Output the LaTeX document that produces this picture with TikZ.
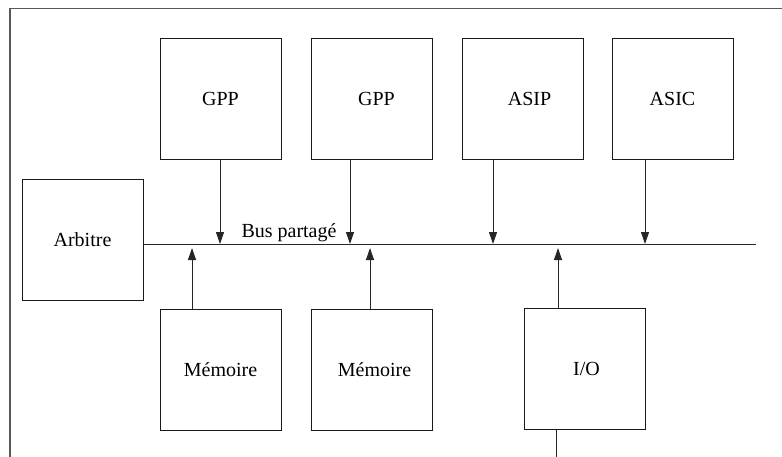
\documentclass[tikz,border=0pt]{standalone}
\usepackage{fontspec}
\setmainfont{Liberation Serif}
\usetikzlibrary{arrows.meta,calc}
\newcommand{\dn}[2]{\raisebox{-#1pt}{#2}}
\begin{document}
\begin{tikzpicture}[x=0.5pt,y=-0.5pt,
  unit/.style={draw=black!90,line width=0.5pt,minimum width=60.5pt,minimum height=60.5pt,inner sep=0pt,font=\fontsize{10}{12}\selectfont},
  arr/.style={draw=black!85,line width=0.5pt,-{Triangle[length=6pt,width=4pt]}},
  wire/.style={draw=black!85,line width=0.5pt}]
\useasboundingbox (0,0) rectangle (782,456);
% outer frame
\coordinate (frBL) at (10,460);
\coordinate (frTL) at (10,8.5);
\coordinate (frTR) at (786,8.5);
\draw[draw=black!65,line width=0.7pt] (frBL) -- (frTL) -- (frTR);
% boxes
\node[unit] (gpp1) at (220.5,98.5) {\dn{1.2}{GPP}};
\node[unit] (gpp2) at (371.5,98.5) {\dn{1.2}{\hspace*{5pt}GPP}};
\node[unit] (asip) at (522.5,98.5) {\dn{1.2}{\hspace*{7pt}ASIP}};
\node[unit] (asic) at (672.5,98.5) {\dn{1.2}{ASIC}};
\node[unit] (arb) at (82.5,240) {\dn{1.5}{Arbitre}};
\node[unit] (mem1) at (220.5,370) {\dn{1}{Mémoire}};
\node[unit] (mem2) at (371.5,370) {\dn{1}{\hspace*{3pt}Mémoire}};
\node[unit] (io) at (584.5,368.5) {\dn{2.5}{\hspace*{2pt}I/O}};
% bus
\coordinate (busR) at (756,244);
\draw[wire] (arb.east |- busR) -- (busR);
\node[font=\fontsize{10}{12}\selectfont,inner sep=0pt] (buslbl) at (289,233) {Bus partagé};
% down arrows
\draw[arr] ($(gpp1.south)+(-0.5,0)$) -- ($(gpp1.south|-busR)+(-0.5,0)$);
\draw[arr] ($(gpp2.south)+(-21.5,0)$) -- ($(gpp2.south|-busR)+(-21.5,0)$);
\draw[arr] ($(asip.south)+(-29.5,0)$) -- ($(asip.south|-busR)+(-29.5,0)$);
\draw[arr] ($(asic.south)+(-27.5,0)$) -- ($(asic.south|-busR)+(-27.5,0)$);
% up arrows
\draw[arr] ($(mem1.north)+(-28.5,0)$) -- ($(mem1.north|-busR)+(-28.5,4)$);
\draw[arr] ($(mem2.north)+(-1.5,0)$) -- ($(mem2.north|-busR)+(-1.5,4)$);
\draw[arr] ($(io.north)+(-26.5,0)$) -- ($(io.north|-busR)+(-26.5,4)$);
% I/O external line
\coordinate (ioext) at (556,460);
\draw[wire] ($(io.south)+(-28.5,0)$) -- (ioext);
\end{tikzpicture}
\end{document}
